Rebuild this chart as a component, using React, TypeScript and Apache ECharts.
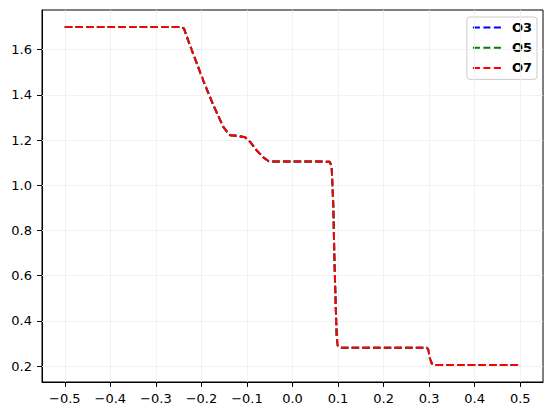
import React, { useEffect, useRef } from "react";
import * as echarts from "echarts";

const xs = [
  -0.5, -0.245, -0.238, -0.23, -0.218, -0.196, -0.174, -0.152, -0.141, -0.137,
  -0.12, -0.104, -0.093, -0.079, -0.064, -0.053, -0.045, 0.0, 0.05, 0.082,
  0.086, 0.0897, 0.0919, 0.0949, 0.0971, 0.0995, 0.103, 0.15, 0.2, 0.25,
  0.295, 0.2985, 0.302, 0.306, 0.31, 0.35, 0.4, 0.45, 0.5,
];

const o3 = [
  1.7, 1.7, 1.692, 1.645, 1.581, 1.463, 1.355, 1.258, 1.229, 1.221,
  1.218, 1.212, 1.192, 1.155, 1.123, 1.107, 1.105, 1.105, 1.105, 1.104,
  1.081, 0.905, 0.685, 0.465, 0.333, 0.29, 0.282, 0.282, 0.282, 0.282,
  0.282, 0.272, 0.231, 0.212, 0.206, 0.205, 0.205, 0.205, 0.205,
];

const o5 = [
  1.7, 1.7, 1.692, 1.645, 1.581, 1.463, 1.355, 1.258, 1.229, 1.221,
  1.218, 1.212, 1.192, 1.155, 1.123, 1.107, 1.105, 1.105, 1.105, 1.104,
  1.081, 0.905, 0.685, 0.465, 0.333, 0.29, 0.282, 0.282, 0.282, 0.282,
  0.282, 0.272, 0.231, 0.212, 0.206, 0.205, 0.205, 0.205, 0.205,
];

const o7 = [
  1.7, 1.7, 1.692, 1.645, 1.581, 1.463, 1.355, 1.258, 1.229, 1.221,
  1.218, 1.212, 1.192, 1.155, 1.123, 1.107, 1.105, 1.105, 1.105, 1.104,
  1.081, 0.905, 0.685, 0.465, 0.333, 0.29, 0.282, 0.282, 0.282, 0.282,
  0.282, 0.272, 0.231, 0.212, 0.206, 0.205, 0.205, 0.205, 0.205,
];

const seriesNames = ["O3", "O5", "O7"];
const seriesColors = ["#0000ff", "#008000", "#ff0000"];

const xTicks = [-0.5, -0.4, -0.3, -0.2, -0.1, 0.0, 0.1, 0.2, 0.3, 0.4, 0.5];
const yTicks = [0.2, 0.4, 0.6, 0.8, 1.0, 1.2, 1.4, 1.6];

const X_MIN = -0.55;
const X_MAX = 0.55;
const Y_MIN = 0.13025;
const Y_MAX = 1.77475;

const FONT = "DejaVu Sans";
const DASH_ICON = "path://M0,0h7v2h-7zM10.5,0h7v2h-7zM21,0h7v2h-7z";

const fmt = (v: number) => v.toFixed(1).replace("-", "\u2212");

export default function App() {
  const ref = useRef<HTMLDivElement>(null);

  useEffect(() => {
    if (!ref.current) return;
    const chart = echarts.init(ref.current, undefined, { renderer: "svg" });
    const allY = [o3, o5, o7];
    const gridLine = {
      silent: true,
      symbol: "none",
      label: { show: false },
      lineStyle: { color: "#efefef", width: 0.8, type: "solid" },
      data: [
        ...xTicks.map((v) => ({ xAxis: v })),
        ...yTicks.map((v) => ({ yAxis: v })),
      ],
    };
    const axisCommon = {
      type: "value",
      splitLine: { show: false },
      axisLine: { show: true, onZero: false, lineStyle: { color: "#000000", width: 1 } },
    };
    chart.setOption({
      animation: false,
      backgroundColor: "#ffffff",
      grid: {
        left: 42,
        right: 11,
        top: 10,
        bottom: 34,
        show: true,
        borderColor: "#000000",
        borderWidth: 1,
        backgroundColor: "transparent",
      },
      xAxis: {
        ...axisCommon,
        min: X_MIN,
        max: X_MAX,
        axisTick: {
          show: true,
          length: 5,
          inside: false,
          customValues: xTicks,
          lineStyle: { color: "#000000", width: 1 },
        },
        axisLabel: {
          customValues: xTicks,
          formatter: fmt,
          color: "#000000",
          fontSize: 13,
          fontFamily: FONT,
          margin: 10,
        },
      },
      yAxis: {
        ...axisCommon,
        min: Y_MIN,
        max: Y_MAX,
        axisTick: {
          show: true,
          length: 5,
          inside: false,
          customValues: yTicks,
          lineStyle: { color: "#000000", width: 1 },
        },
        axisLabel: {
          customValues: yTicks,
          formatter: fmt,
          color: "#000000",
          fontSize: 13,
          fontFamily: FONT,
          margin: 10,
        },
      },
      legend: {
        data: seriesNames.map((name) => ({ name, icon: DASH_ICON })),
        orient: "vertical",
        right: 17,
        top: 17,
        itemWidth: 28,
        itemHeight: 14,
        itemGap: 7.2,
        padding: [4, 5, 5, 6],
        borderColor: "#cccccc",
        borderWidth: 1,
        borderRadius: 3,
        backgroundColor: "rgba(255,255,255,0.8)",
        textStyle: {
          color: "#000000",
          fontSize: 13,
          fontWeight: "bold",
          fontFamily: FONT,
          padding: [0, 0, 0, 6],
        },
      },
      series: seriesNames.map((name, i) => ({
        name,
        type: "line",
        symbol: "none",
        showSymbol: false,
        smooth: false,
        z: 3 + i,
        data: xs.map((x, k) => [x, allY[i][k]]),
        lineStyle: {
          color: seriesColors[i],
          width: 2,
          type: [7.5, 3.2],
        },
        itemStyle: { color: seriesColors[i] },
        markLine: i === 0 ? gridLine : undefined,
      })),
    });
    return () => chart.dispose();
  }, []);

  return (
    <div
      ref={ref}
      style={{ position: "absolute", left: 0, top: 0, width: 554, height: 416 }}
    />
  );
}
